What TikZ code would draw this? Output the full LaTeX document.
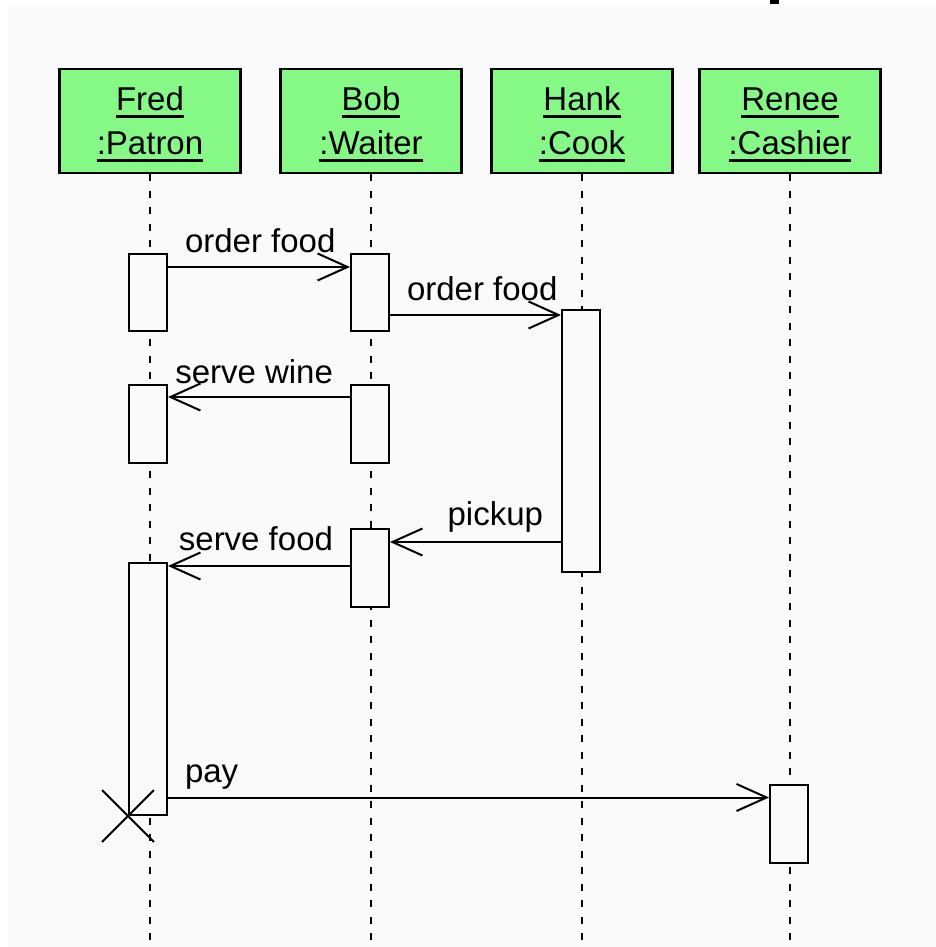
\documentclass[tikz,border=0pt]{standalone}
\usepackage{fontspec}
\setmainfont{Liberation Sans}
\usetikzlibrary{arrows.meta}

\definecolor{bggray}{HTML}{FAFAFA}
\definecolor{headgreen}{RGB}{134,248,134}

\newcommand\undr[1]{\setbox0\hbox{#1}\rlap{\rule[-7.5pt]{\wd0}{3pt}}\box0}

\begin{document}
\begin{tikzpicture}
  [x=1pt, y=-1pt,
    >={Straight Barb[length=30pt, width=27pt]},
    font=\fontsize{33pt}{44pt}\selectfont]

  \tikzset{
    head/.style={
      rectangle,
      draw=black, line width=2.5pt, fill=headgreen,
      minimum width=181pt, minimum height=104pt,
      inner sep=0pt, align=center,
    },
    act/.style={
      rectangle, anchor=north,
      draw=black, line width=2pt, fill=bggray,
      minimum width=38pt, inner sep=0pt,
    },
    lifeline/.style={draw, line width=2.2pt, dash pattern=on 7pt off 9.5pt},
    msg/.style={->, draw, line width=2pt},
    lbl/.style={inner sep=0pt},
    kill/.style={draw, line width=2pt},
  }

  \fill[white] (0,0) rectangle (936,947);
  \fill[bggray] (8,4) rectangle (936,947);
  \fill[black] (770,0) rectangle (779,4);
  \useasboundingbox (0,0) rectangle (936,947);
  \coordinate (bottom) at (0,947);

  % objects and lifelines
  \foreach \id/\who/\what/\x in {fred/Fred/Patron/150, bob/Bob/Waiter/371,
      hank/Hank/Cook/582, renee/Renee/Cashier/790}
    \node[head] (\id) at (\x,121) {\rule{0pt}{30pt}\undr{\who}\\\undr{:\what}};
  \foreach \id in {fred, bob, hank, renee}
    \draw[lifeline] (\id.south) -- (\id.south |- bottom);

  % activations
  \node[act, minimum height=77pt] (fred1) at (148,253) {};
  \node[act, minimum height=77pt] (bob1) at (370,253) {};
  \node[act, minimum height=262pt] (hank1) at (581,309) {};
  \node[act, minimum height=78pt] (fred2) at (148,384) {};
  \node[act, minimum height=78pt] (bob2) at (370,384) {};
  \node[act, minimum height=78pt] (bob3) at (370,528) {};
  \node[act, minimum height=252pt] (fred3) at (148,562) {};
  \node[act, minimum height=78pt] (renee1) at (789,784) {};

  % messages
  \coordinate (m1) at ([yshift=-14pt]fred1.north east);
  \draw[msg] (m1) -- (m1 -| bob1.west)
    node[lbl, pos=0, anchor=base west, xshift=16pt, yshift=15pt] {order food};

  \coordinate (m2) at ([yshift=-62pt]bob1.north east);
  \draw[msg] (m2) -- (m2 -| hank1.west)
    node[lbl, pos=0, anchor=base west, xshift=16pt, yshift=15pt] {order food};

  \coordinate (m3) at ([yshift=-13pt]bob2.north west);
  \draw[msg] (m3) -- (m3 -| fred2.east)
    node[lbl, pos=0, anchor=base east, xshift=-16pt, yshift=14pt] {serve wine};

  \coordinate (m4) at ([yshift=-233pt]hank1.north west);
  \draw[msg] (m4) -- (m4 -| bob3.east)
    node[lbl, pos=0, anchor=base east, xshift=-17pt, yshift=17pt] {pickup};

  \coordinate (m5) at ([yshift=-38pt]bob3.north west);
  \draw[msg] (m5) -- (m5 -| fred3.east)
    node[lbl, pos=0, anchor=base east, xshift=-16pt, yshift=16pt] {serve food};

  \coordinate (m6) at ([yshift=-235.5pt]fred3.north east);
  \draw[msg] (m6) -- (m6 -| renee1.west)
    node[lbl, pos=0, anchor=base west, xshift=16pt, yshift=15pt] {pay};

  % destruction
  \draw[kill] ([shift={(-26pt,26pt)}]fred3.south west) -- ([shift={(26pt,-26pt)}]fred3.south west);
  \draw[kill] ([shift={(26pt,26pt)}]fred3.south west) -- ([shift={(-26pt,-26pt)}]fred3.south west);
\end{tikzpicture}
\end{document}
